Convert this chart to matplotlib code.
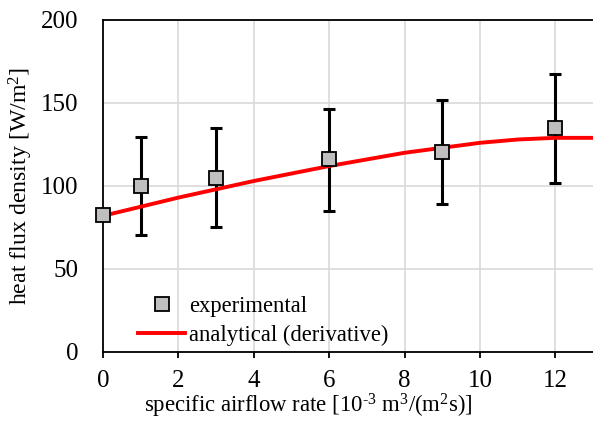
import matplotlib
matplotlib.use("Agg")
import matplotlib.pyplot as plt

plt.rcParams["font.family"] = ["Liberation Serif", "DejaVu Serif"]
plt.rcParams["mathtext.fontset"] = "custom"
plt.rcParams["mathtext.rm"] = "Liberation Serif"
plt.rcParams["mathtext.it"] = "Liberation Serif:italic"

# experimental points with error bars
exp_x = [0, 1, 3, 6, 9, 12]
exp_y = [82.5, 100, 105, 116, 120.5, 135]
err_low = [82.5, 70.5, 75, 85, 89, 102]
err_high = [82.5, 129.5, 135, 146.5, 152, 167.5]

# analytical (derivative) curve
ana_x = [0, 1, 2, 3, 4, 5, 6, 7, 8, 9, 10, 11, 12, 13]
ana_y = [82, 87.5, 93, 98, 103, 107.5, 112, 116, 120, 123, 126, 128, 129, 129]

xticks = [0, 2, 4, 6, 8, 10, 12]
yticks = [0, 50, 100, 150, 200]

fig = plt.figure(figsize=(5.93, 4.21), dpi=100)
ax = fig.add_axes([0.1737, 0.164, 0.8263, 0.7885])

ax.plot(ana_x, ana_y, color="#ff0000", lw=2.8, zorder=3,
        label="analytical (derivative)")

yerr = [[y - lo for y, lo in zip(exp_y, err_low)],
        [hi - y for y, hi in zip(exp_y, err_high)]]
ax.errorbar(exp_x, exp_y, yerr=yerr, fmt="none", ecolor="black",
            elinewidth=2.2, capsize=4, capthick=2.2, zorder=2)
ax.plot(exp_x, exp_y, ls="none", marker="s", ms=10, mfc="#bfbfbf",
        mec="black", mew=1.3, zorder=4, clip_on=False, label="experimental")

ax.set_xlim(0, 13)
ax.set_ylim(0, 200)
ax.set_xticks(xticks)
ax.set_yticks(yticks)
ax.grid(True, color="#d9d9d9", lw=1.2)
ax.set_axisbelow(True)

for side in ["left", "bottom", "top"]:
    ax.spines[side].set_color("black")
    ax.spines[side].set_linewidth(1.3)
ax.spines["right"].set_visible(False)

ax.tick_params(axis="x", direction="out", length=4, width=1.3,
               labelsize=18, pad=9)
ax.tick_params(axis="y", length=0, labelsize=18, pad=18)

ax.set_xlabel(r"specific airflow rate [10$^{\text{-3}}$ m$^{\text{3}}$/(m$^{\text{2}}$s)]",
              fontsize=16.4)
ax.xaxis.set_label_coords(0.418, -0.12)
ax.set_ylabel(r"heat flux density [W/m$^{\text{2}}$]", fontsize=17.2,
              labelpad=4)

handles, labels = ax.get_legend_handles_labels()
ax.legend(handles[::-1], labels[::-1], loc="lower left",
          bbox_to_anchor=(0.071, 0.018), frameon=False, fontsize=16.3,
          borderpad=0, borderaxespad=0,
          handlelength=2.1, handletextpad=0.15, labelspacing=0.35)

fig.savefig("out.png", dpi=100)
